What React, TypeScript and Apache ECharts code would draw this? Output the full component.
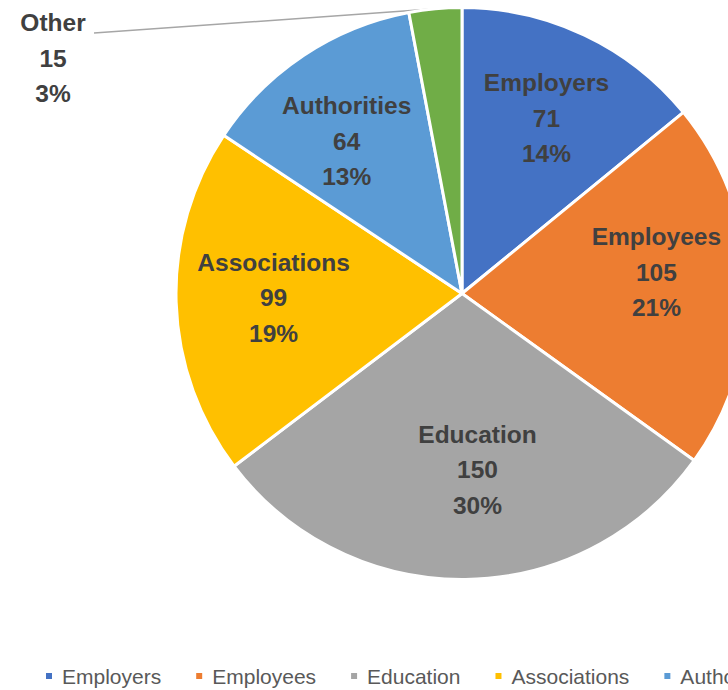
import React, { useEffect, useRef } from "react";
import * as echarts from "echarts";

const categories = ["Employers", "Employees", "Education", "Associations", "Authorities", "Other"];
const values = [71, 105, 150, 99, 64, 15];
const percentLabels = ["14%", "21%", "30%", "19%", "13%", "3%"];
const colors = ["#4472C4", "#ED7D31", "#A5A5A5", "#FFC000", "#5B9BD5", "#70AD47"];

// layout tweaks (pixel nudges of the inside labels, as Excel places them)
const LABEL_NUDGE: number[][] = [
  [-1, 5],
  [-5, -15],
  [13, -23],
  [11, -2],
  [-5, 14],
  [0, 0],
];

const CX = 462;
const CY = 293.5;
const R = 286;

export default function App() {
  const ref = useRef<HTMLDivElement>(null);
  useEffect(() => {
    document.body.style.margin = "0";
    document.body.style.overflow = "hidden";
    const chart = echarts.init(ref.current!, undefined, { renderer: "svg" });
    const total = values.reduce((a, b) => a + b, 0);
    const data = categories.map((name, i) => ({ name, value: values[i] }));
    const labelFont = "'Liberation Sans', Arial, sans-serif";
    chart.setOption({
      animation: false,
      color: colors,
      legend: {
        data: categories,
        left: 39,
        top: 659,
        orient: "horizontal",
        icon: "rect",
        itemWidth: 8,
        itemHeight: 8,
        itemGap: 33,
        selectedMode: false,
        textStyle: {
          fontFamily: labelFont,
          fontSize: 21,
          color: "#595959",
          lineHeight: 24,
          padding: [0, 0, 0, 4],
        },
      },
      series: [
        {
          type: "pie",
          center: [CX, CY],
          radius: [0, R],
          startAngle: 90,
          clockwise: true,
          silent: true,
          avoidLabelOverlap: false,
          label: { show: false },
          labelLine: { show: false },
          itemStyle: { borderColor: "#ffffff", borderWidth: 3 },
          data: data.map((d, i) => ({ ...d, itemStyle: { color: colors[i] } })),
        },
        {
          type: "pie",
          center: [CX, CY],
          radius: [107, R],
          startAngle: 90,
          clockwise: true,
          silent: true,
          avoidLabelOverlap: false,
          itemStyle: { color: "rgba(0,0,0,0)", borderWidth: 0 },
          label: {
            show: true,
            position: "inside",
            formatter: (p: any) => `${p.name}\n${p.value}\n${percentLabels[p.dataIndex]}`,
            fontFamily: labelFont,
            fontWeight: "bold",
            fontSize: 24.5,
            lineHeight: 35.5,
            color: "#404040",
            align: "center",
          },
          labelLine: { show: false },
          labelLayout: (params: any) => {
            if (params.dataIndex !== 5) {
              const n = LABEL_NUDGE[params.dataIndex] || [0, 0];
              return { dx: n[0], dy: n[1] };
            }
            let p0 = params.labelLinePoints && params.labelLinePoints[0];
            if (!p0) {
              let before = 0;
              for (let i = 0; i < 5; i++) before += values[i];
              const mid = ((before + values[5] / 2) / total) * Math.PI * 2;
              p0 = [CX + R * Math.sin(mid), CY - R * Math.cos(mid)];
            }
            return {
              x: 53,
              y: 58,
              align: "center",
              verticalAlign: "middle",
              labelLinePoints: [p0, [94, 33], [94, 33]],
            };
          },
          data: data.map((d, i) =>
            i === 5
              ? {
                  ...d,
                  label: { position: "outside" },
                  labelLine: {
                    show: true,
                    length: 5,
                    length2: 5,
                    lineStyle: { color: "#A6A6A6", width: 1.5 },
                  },
                }
              : d
          ),
        },
      ],
    });
    return () => chart.dispose();
  }, []);
  return (
    <div style={{ position: "relative", width: 728, height: 690, overflow: "hidden" }}>
      <div ref={ref} style={{ position: "absolute", left: 0, top: 0, width: 1000, height: 690 }} />
    </div>
  );
}
